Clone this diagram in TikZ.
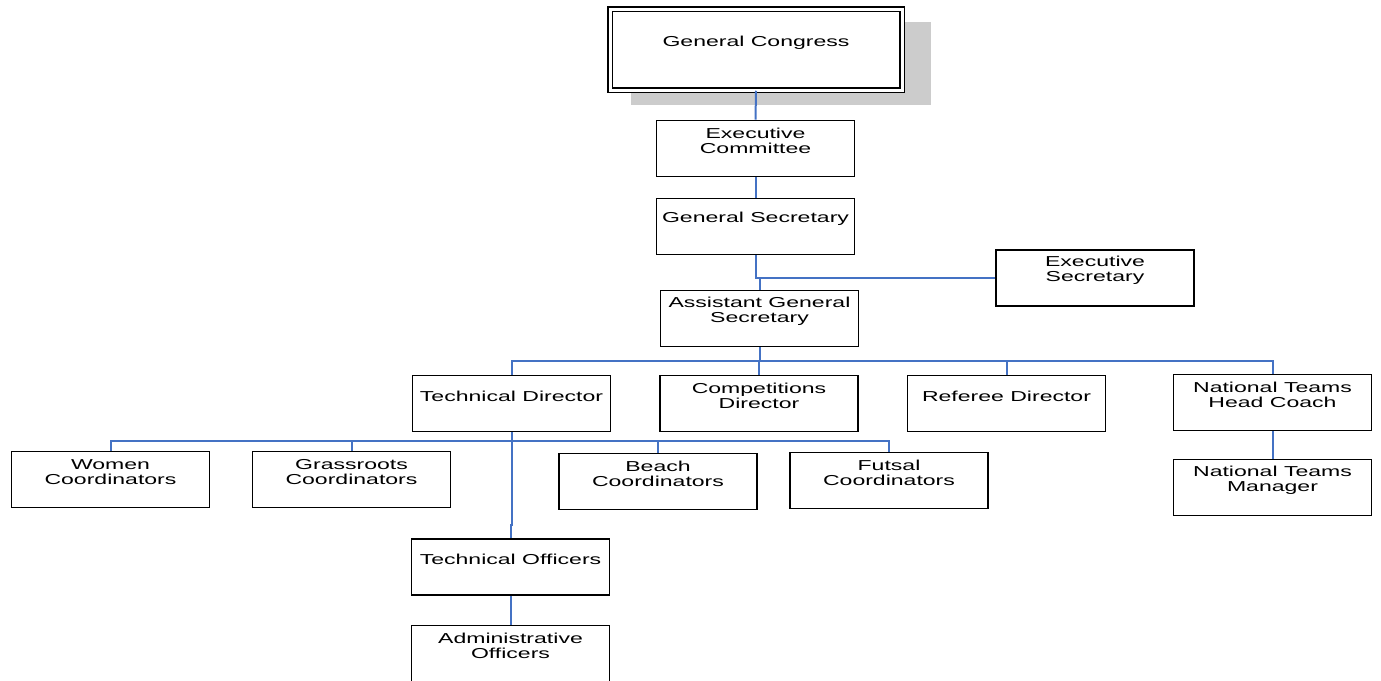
\documentclass[tikz,border=0pt]{standalone}
\usepackage{fontspec}
\setmainfont{Liberation Sans}[FakeStretch=1.6]
\usetikzlibrary{shadows}
\definecolor{linkblue}{HTML}{4472C4}
\newcommand{\orgfont}{\fontsize{14.4}{15}\selectfont}

\begin{document}
\begin{tikzpicture}[x=1pt, y=-1pt, font=\orgfont,
    orgbox/.style={draw, line width=1.6pt, minimum width=198pt, minimum height=56pt,
        label={[align=center, yshift=7.5pt]center:#1}},
    link/.style={linkblue, line width=2pt}]
    \useasboundingbox (0,0) rectangle (1381,680);

    % Top of the chart
    \node[draw, double, double distance=3pt, line width=1.5pt, fill=white,
        minimum width=292pt, minimum height=81pt,
        drop shadow={shadow xshift=24.5pt, shadow yshift=-13.5pt, shadow scale=1.025, fill=black!20, opacity=1},
        label={[yshift=7pt]center:General Congress}] (gcong) at (756,49.5) {};
    \node[orgbox={Executive\\Committee}] (ec) at (755.5,148.5) {};
    \node[orgbox={General Secretary}] (gs) at (755.5,226.5) {};
    \node[orgbox={Executive\\Secretary}] (es) at (1095,278) {};
    \node[orgbox={Assistant General\\Secretary}] (ags) at (759.5,318.5) {};

    % Directors
    \node[orgbox={Technical Director}] (td) at (511.5,403.5) {};
    \node[orgbox={Competitions\\Director}] (cd) at (759,403.5) {};
    \node[orgbox={Referee Director}] (rd) at (1006.5,403.5) {};
    \node[orgbox={National Teams\\Head Coach}] (nthc) at (1272.5,402.5) {};
    \node[orgbox={National Teams\\Manager}] (ntm) at (1272.5,487.5) {};

    % Coordinators and officers
    \node[orgbox={Women\\Coordinators}] (wc) at (110.5,479.5) {};
    \node[orgbox={Grassroots\\Coordinators}] (grc) at (351.5,479.5) {};
    \node[orgbox={Beach\\Coordinators}] (bc) at (658,481.5) {};
    \node[orgbox={Futsal\\Coordinators}] (fc) at (889,480.5) {};
    \node[orgbox={Technical Officers}] (to) at (510.5,567) {};
    \node[orgbox={Administrative\\Officers}] (ao) at (510.5,653.5) {};

    % Branch points
    \coordinate (agsbus) at (759.5,361);
    \coordinate (tdbus) at (511.5,441);
    \coordinate (tdjog) at (511.5,525);

    % Connectors
    \draw[link] (gcong.south) -- (ec.north);
    \draw[link] (ec.south) -- (gs.north);
    \draw[link] (gs.south) |- (es.west);
    \draw[link] (ags.north) -- (ags.north |- es.west);
    \draw[link] (ags.south) -- (agsbus);
    \foreach \n in {td,cd,rd,nthc} {
        \draw[link] (\n.north) |- (agsbus);
    }
    \draw[link] (nthc.south) -- (ntm.north);
    \draw[link] (td.south) -- (tdbus);
    \foreach \n in {wc,grc,bc,fc} {
        \draw[link] (\n.north) |- (tdbus);
    }
    \draw[link] (tdbus) -- (tdjog) -| (to.north);
    \draw[link] (to.south) -- (ao.north);
\end{tikzpicture}
\end{document}
